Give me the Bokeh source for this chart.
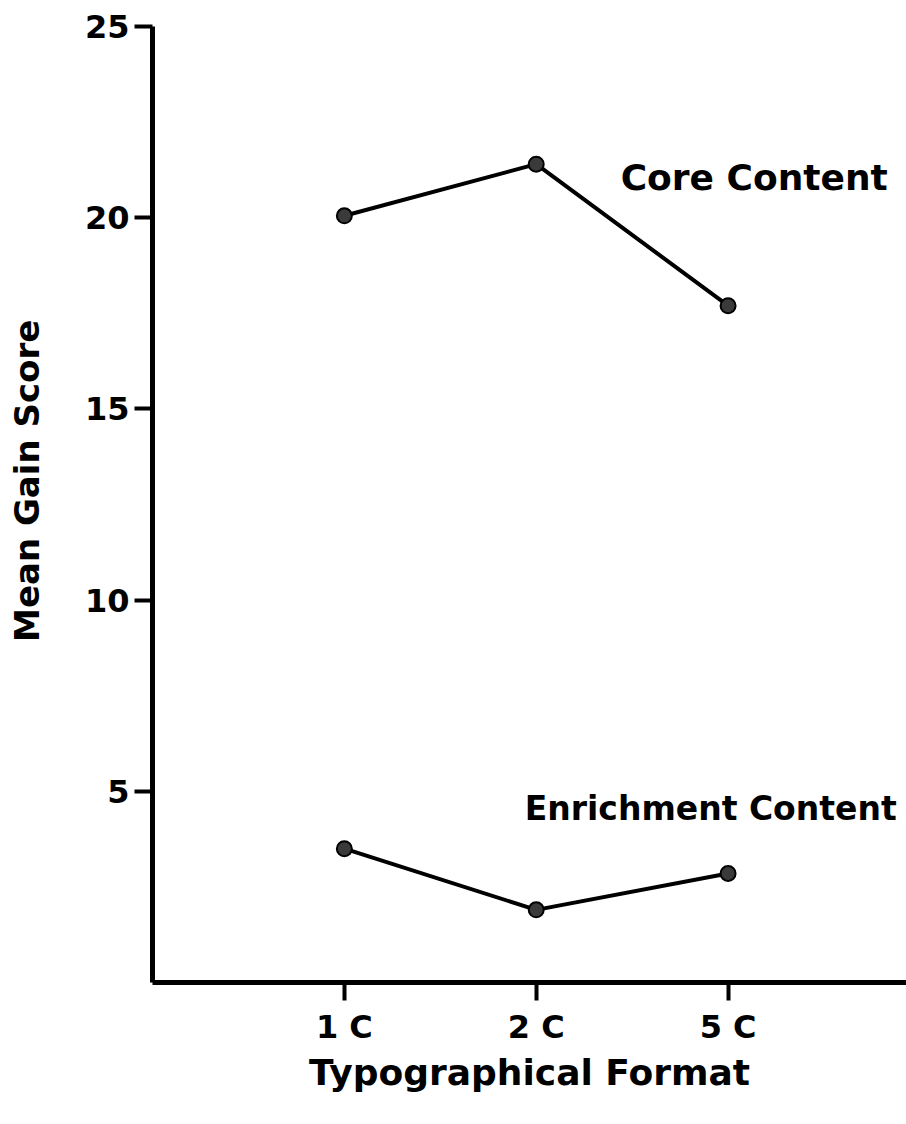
from bokeh.plotting import figure
from bokeh.models import Range1d, FixedTicker, Label
from bokeh.embed import file_html
from bokeh.resources import INLINE

# ---- data ----
formats = ["1 C", "2 C", "5 C"]
format_pos = [1, 2, 3]
core_content = [20.05, 21.4, 17.7]
enrichment_content = [3.5, 1.9, 2.85]
y_ticks = [5, 10, 15, 20, 25]

FONT = "DejaVu Sans"
NB = "\u00a0"

p = figure(width=906, height=1110, output_backend="svg", toolbar_location=None,
           x_range=Range1d(0, 3.93), y_range=Range1d(0, 25),
           min_border_left=152, min_border_right=0, min_border_top=26,
           min_border_bottom=128)
p.outline_line_color = None
p.grid.grid_line_color = None
p.background_fill_color = "white"
p.border_fill_color = "white"

for ax in (p.xaxis[0], p.yaxis[0]):
    ax.axis_line_width = 5
    ax.axis_line_color = "black"
    ax.major_tick_line_width = 4
    ax.major_tick_line_color = "black"
    ax.major_tick_in = 0
    ax.major_tick_out = 18
    ax.minor_tick_line_color = None
    ax.major_label_text_font = FONT
    ax.major_label_text_font_style = "bold"
    ax.major_label_text_font_size = "32px"
    ax.major_label_text_color = "black"
    ax.axis_label_text_font = FONT
    ax.axis_label_text_font_style = "bold"
    ax.axis_label_text_color = "black"

p.xaxis.ticker = FixedTicker(ticks=format_pos)
p.xaxis.major_label_overrides = {pos: lab for pos, lab in zip(format_pos, formats)}
p.xaxis.major_label_standoff = 7
p.xaxis.axis_label = "Typographical Format"
p.xaxis.axis_label_text_font_size = "36px"
p.xaxis.axis_label_standoff = 3

p.yaxis.ticker = FixedTicker(ticks=y_ticks)
p.yaxis.major_label_standoff = 5
p.yaxis.axis_label = NB * 4 + "Mean Gain Score"
p.yaxis.axis_label_text_font_size = "34px"
p.yaxis.axis_label_standoff = 35

# series
p.line(format_pos, core_content, line_width=4, line_color="black")
p.scatter(format_pos, core_content, size=15, fill_color="#3a3a3a",
          line_color="black", line_width=2)
p.line(format_pos, enrichment_content, line_width=4, line_color="black")
p.scatter(format_pos, enrichment_content, size=15, fill_color="#3a3a3a",
          line_color="black", line_width=2)

# series labels
p.add_layout(Label(x=2.44, y=21.05, text="Core Content", text_align="left",
                   text_baseline="middle", text_font=FONT, text_font_style="bold",
                   text_font_size="36px", text_color="black"))
p.add_layout(Label(x=1.94, y=4.55, text="Enrichment Content", text_align="left",
                   text_baseline="middle", text_font=FONT, text_font_style="bold",
                   text_font_size="33px", text_color="black"))

open("out.html", "w").write(file_html(p, INLINE))
